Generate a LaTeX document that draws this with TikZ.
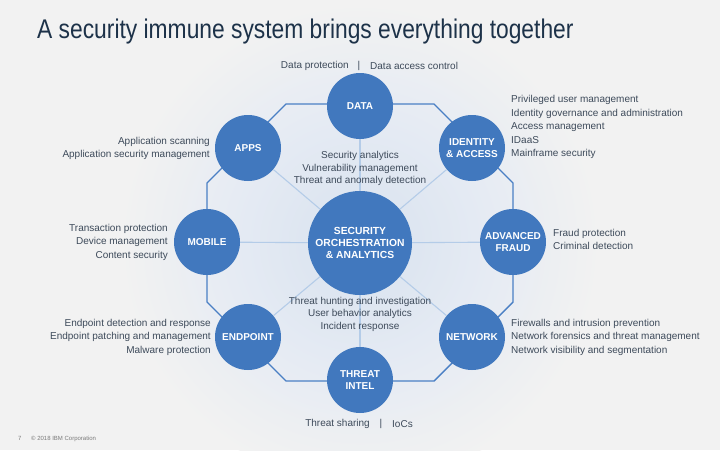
\documentclass[tikz,border=0pt]{standalone}
\usepackage{fontspec}
\setmainfont{Liberation Sans}
\definecolor{bg}{HTML}{F2F2F2}
\definecolor{ibmblue}{HTML}{4178BE}
\definecolor{octline}{HTML}{4A7FC4}
\definecolor{spoke}{HTML}{B4CCE8}
\definecolor{txt}{HTML}{3D4A5A}
\definecolor{titlec}{HTML}{1D3249}
\definecolor{foot}{HTML}{7A7A7A}
\definecolor{glowa}{HTML}{D8E2EF}
\definecolor{glowb}{HTML}{E4EAF3}
\pgfdeclareradialshading{glow}{\pgfpoint{0bp}{0bp}}{color(0bp)=(glowa); color(12bp)=(glowb); color(25bp)=(bg); color(50bp)=(bg)}
\begin{document}
\begin{tikzpicture}[x=1pt,y=-1pt,
  bubble/.style={circle, fill=ibmblue, minimum size=66pt, inner sep=0pt, text=white,
    align=center, font=\bfseries\fontsize{10}{11.5}\selectfont},
  core/.style={circle, fill=ibmblue, minimum size=104pt, inner sep=0pt, text=white,
    align=center, font=\bfseries\fontsize{10.3}{12}\selectfont},
  desc/.style={text=txt, inner sep=0pt, font=\fontsize{10}{13.5}\selectfont},
  cdesc/.style={text=txt, inner sep=0pt, align=center, font=\fontsize{10}{12.5}\selectfont},
  octa/.style={draw=octline, line width=1.4pt, line join=miter},
  spk/.style={draw=spoke, line width=1.1pt}]
\useasboundingbox (0,0) rectangle (720,450);
\fill[bg] (0,0) rectangle (720,450);
\clip (0,0) rectangle (720,450);
% glow
\shade[shading=glow] (360,243) circle (240);
% title
\node[anchor=base west, inner sep=0pt, text=titlec, font=\fontsize{27}{30}\selectfont] (title) at (37,38)
  {\scalebox{0.845}[1]{A security immune system brings everything together}};
% octagon coordinates
\coordinate (o1) at (286,104);
\coordinate (o2) at (434,104);
\coordinate (o3) at (513,183);
\coordinate (o4) at (513,302);
\coordinate (o5) at (434,381);
\coordinate (o6) at (286,381);
\coordinate (o7) at (207,302);
\coordinate (o8) at (207,183);
\draw[octa] (o1) -- (o2) -- (o3) -- (o4) -- (o5) -- (o6) -- (o7) -- (o8) -- cycle;
% nodes
\node[core] (soa) at (360,243) {SECURITY\\ORCHESTRATION\\\& ANALYTICS};
\node[bubble] (data) at (360,106) {DATA};
\node[bubble] (apps) at (248,148) {APPS};
\node[bubble] (ident) at (472,148) {IDENTITY\\\& ACCESS};
\node[bubble] (mobile) at (207,242) {MOBILE};
\node[bubble] (fraud) at (513,242) {ADVANCED\\FRAUD};
\node[bubble] (endp) at (248,337) {ENDPOINT};
\node[bubble] (net) at (472,337) {NETWORK};
\node[bubble] (intel) at (360,380) {THREAT\\INTEL};
% spokes
\foreach \n in {data,apps,ident,mobile,fraud,endp,net,intel}
  \path[spk] (soa) -- (\n);
% descriptions
\node[desc, anchor=east] (dp) at (349,66) {Data protection};
\node[desc] (bar1) at (359,66) {|};
\node[desc, anchor=west] (dac) at (370,66) {Data access control};
\node[desc, anchor=east] (ts) at (370,424) {Threat sharing};
\node[desc] (bar2) at (381,424) {|};
\node[desc, anchor=west] (ioc) at (392,424) {IoCs};
\node[desc, anchor=west, align=left] (identd) at (511,127)
  {Privileged user management\\Identity governance and administration\\Access management\\IDaaS\\Mainframe security};
\node[desc, anchor=west, align=left] (fraudd) at (553,239.5)
  {Fraud protection\\Criminal detection};
\node[desc, anchor=east, align=right] (appsd) at (210,148.5)
  {Application scanning\\Application security management};
\node[desc, anchor=east, align=right] (mobiled) at (168,242)
  {Transaction protection\\Device management\\Content security};
\node[desc, anchor=east, align=right] (endpd) at (211,337)
  {Endpoint detection and response\\Endpoint patching and management\\Malware protection};
\node[desc, anchor=west, align=left] (netd) at (511,337)
  {Firewalls and intrusion prevention\\Network forensics and threat management\\Network visibility and segmentation};
\node[cdesc] (upper) at (360,168.5)
  {Security analytics\\Vulnerability management\\Threat and anomaly detection};
\node[cdesc] (lower) at (360,314)
  {Threat hunting and investigation\\User behavior analytics\\Incident response};
% footer
\node[anchor=base west, inner sep=0pt, text=foot, font=\fontsize{6}{7}\selectfont] (pg) at (18,440) {7};
\node[anchor=base west, inner sep=0pt, text=foot, font=\fontsize{6}{7}\selectfont] (copy) at (31,440) {© 2018 IBM Corporation};
\end{tikzpicture}
\end{document}
